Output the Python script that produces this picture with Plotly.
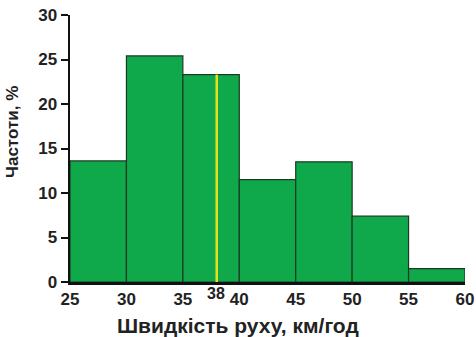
import plotly.graph_objects as go

bin_edges = [25, 30, 35, 40, 45, 50, 55, 60]
frequencies = [13.6, 25.4, 23.3, 11.5, 13.5, 7.4, 1.5]
mean_speed = 38
x_ticks = [25, 30, 35, 40, 45, 50, 55, 60]
y_ticks = [0, 5, 10, 15, 20, 25, 30]
x_title = "Швидкість руху, км/год"
y_title = "Частоти, %"

centers = [(a + b) / 2 for a, b in zip(bin_edges[:-1], bin_edges[1:])]
widths = [b - a for a, b in zip(bin_edges[:-1], bin_edges[1:])]
mean_bin = next(i for i in range(len(frequencies)) if bin_edges[i] <= mean_speed < bin_edges[i + 1])

FONT = "Liberation Sans, Arial, sans-serif"
W, H = 476, 337
ML, MR, MT, MB = 70, 11, 15, 55
PW, PH = W - ML - MR, H - MT - MB

fig = go.Figure()
fig.add_trace(go.Bar(
    x=centers, y=frequencies, width=widths,
    marker=dict(color="#0fa84a", line=dict(color="#1c3a22", width=1.2)),
    hoverinfo="skip",
))
fig.add_trace(go.Scatter(
    x=[mean_speed, mean_speed], y=[0, frequencies[mean_bin]],
    mode="lines", line=dict(color="#e6e21a", width=2.5), hoverinfo="skip",
))
fig.add_annotation(
    x=mean_speed, y=0, xref="x", yref="paper", text="<b>38</b>",
    showarrow=False, yanchor="top", yshift=-1, xshift=-1,
    font=dict(family=FONT, size=16, color="#222"),
)
# x-axis title, centred on figure
fig.add_annotation(
    x=(W / 2 - ML) / PW, y=-(325 - (MT + PH)) / PH, xref="paper", yref="paper",
    text=f"<b>{x_title}</b>", showarrow=False, xanchor="center", yanchor="middle",
    font=dict(family=FONT, size=21, color="#222"),
)
# y-axis title
fig.add_annotation(
    x=-(ML - 12) / PW, y=1 - (132 - MT) / PH, xref="paper", yref="paper",
    text=f"<b>{y_title}</b>", showarrow=False, textangle=-90,
    xanchor="center", yanchor="middle",
    font=dict(family=FONT, size=17, color="#222"),
)

fig.update_layout(
    width=W, height=H,
    margin=dict(l=ML, r=MR, t=MT, b=MB, autoexpand=False),
    paper_bgcolor="white", plot_bgcolor="white",
    showlegend=False, bargap=0,
    font=dict(family=FONT, color="#222"),
)
fig.update_xaxes(
    range=[bin_edges[0], bin_edges[-1]], automargin=False,
    tickvals=x_ticks, ticktext=[f"<b>{v}</b>" for v in x_ticks],
    tickfont=dict(size=17, family=FONT, color="#222"),
    showgrid=False, zeroline=False,
    showline=True, linecolor="#111", linewidth=2.5,
    ticks="", ticklen=0,
)
fig.update_yaxes(
    range=[0, 30], automargin=False,
    tickvals=y_ticks, ticktext=[f"<b>{v}</b>" for v in y_ticks],
    tickfont=dict(size=17, family=FONT, color="#222"),
    showgrid=False, zeroline=False,
    showline=True, linecolor="#111", linewidth=2.5,
    ticks="outside", ticklen=7, tickwidth=2, tickcolor="#111",
)

fig.write_html(
    "out.html",
    config={"displayModeBar": False, "staticPlot": True},
    post_script="document.body.style.margin='0';document.body.style.overflow='hidden';",
)
